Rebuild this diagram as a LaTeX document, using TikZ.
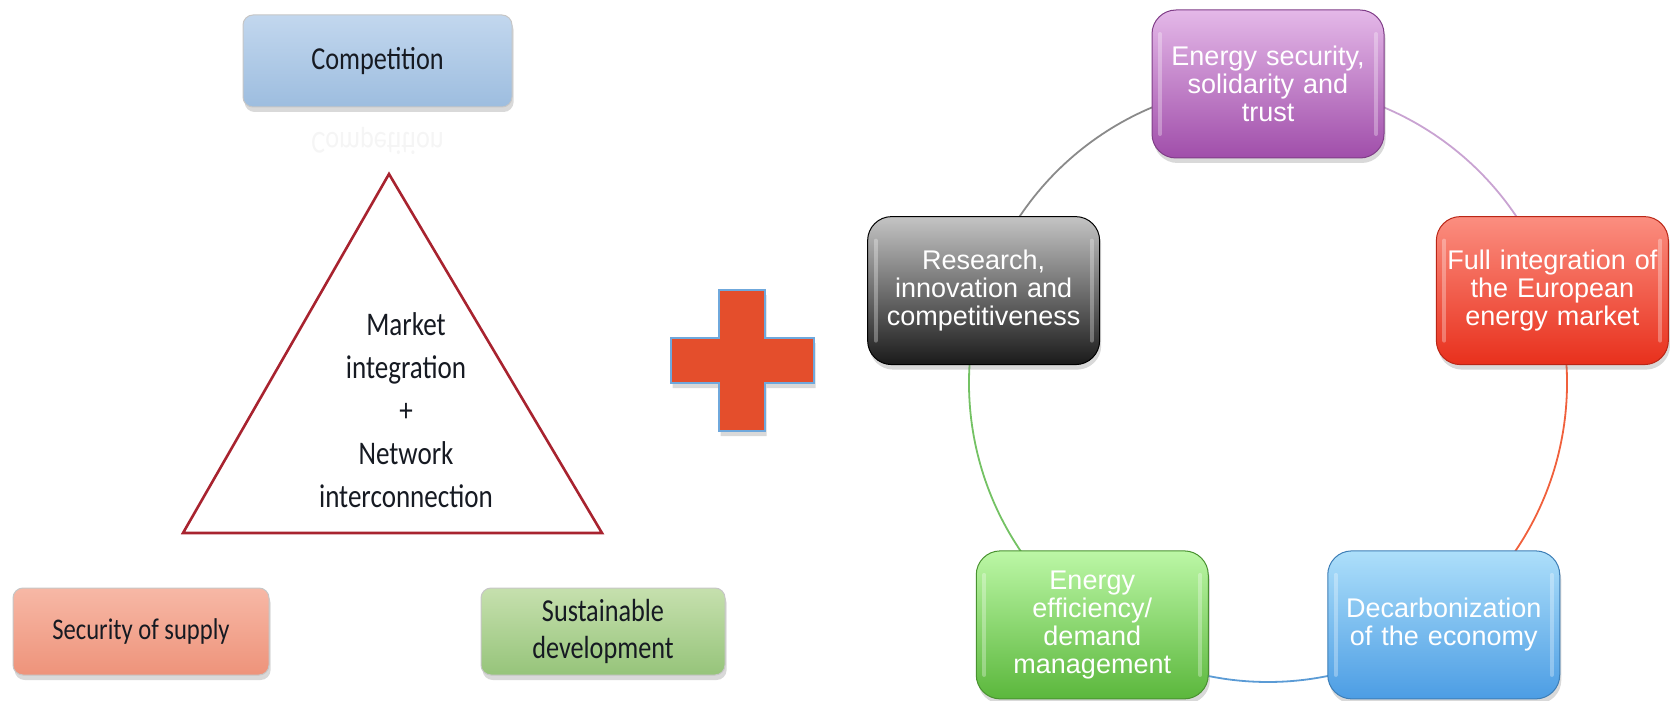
\documentclass[tikz,border=0pt]{standalone}
\usepackage{fontspec}
\usepackage{graphicx}
\setmainfont{Carlito}
\newfontfamily\lfont[FakeStretch=0.82]{Carlito}
\newfontfamily\rfont{Liberation Sans}
\usetikzlibrary{shadows,backgrounds,calc}
\definecolor{compTop}{HTML}{C2D7EE}
\definecolor{compBot}{HTML}{9DBDDF}
\definecolor{secTop}{HTML}{F7B8A6}
\definecolor{secBot}{HTML}{EE937A}
\definecolor{susTop}{HTML}{C6E0AE}
\definecolor{susBot}{HTML}{96C47A}
\definecolor{lefttext}{HTML}{161A22}
\definecolor{esTop}{HTML}{E4B8E8}
\definecolor{esBot}{HTML}{A04EAA}
\definecolor{reTop}{HTML}{C4C4C4}
\definecolor{reBot}{HTML}{1A1A1A}
\definecolor{fiTop}{HTML}{FB8E80}
\definecolor{fiBot}{HTML}{E8301C}
\definecolor{eeTop}{HTML}{BCF7A6}
\definecolor{eeBot}{HTML}{5BB73C}
\definecolor{dcTop}{HTML}{ADDFFA}
\definecolor{dcBot}{HTML}{4C9DE4}
\definecolor{triRed}{HTML}{A8232F}
\definecolor{plusFill}{HTML}{E44E2C}
\definecolor{plusEdge}{HTML}{6FA8DC}
\definecolor{arcGray}{HTML}{8A8A8A}
\definecolor{arcPurple}{HTML}{C9A3D2}
\definecolor{arcRed}{HTML}{F0603C}
\definecolor{arcBlue}{HTML}{5B9BD5}
\definecolor{arcGreen}{HTML}{74C264}
\begin{document}
\begin{tikzpicture}[x=0.5pt,y=-0.5pt,
  shad/.style={drop shadow={opacity=0.3,shadow xshift=0.8pt,shadow yshift=-2.5pt}},
  gloss/.style={path picture={
    \draw[white, opacity=0.3, line width=2pt, line cap=round]
      ([xshift=4pt,yshift=-12pt]path picture bounding box.north west) --
      ([xshift=4pt,yshift=12pt]path picture bounding box.south west);
    \draw[white, opacity=0.3, line width=2pt, line cap=round]
      ([xshift=-4pt,yshift=-12pt]path picture bounding box.north east) --
      ([xshift=-4pt,yshift=12pt]path picture bounding box.south east);}},
  lboxbase/.style={rounded corners=5pt, align=center, text=lefttext,
    font=\lfont\fontsize{16}{18.5}\selectfont, draw=gray!45, line width=0.5pt, shad},
  compbox/.style={lboxbase, top color=compTop, bottom color=compBot, minimum width=134.5pt, minimum height=46pt},
  secbox/.style={lboxbase, top color=secTop, bottom color=secBot, minimum width=128pt, minimum height=43.5pt, font=\lfont\fontsize{15}{18.5}\selectfont},
  susbox/.style={lboxbase, top color=susTop, bottom color=susBot, minimum width=122pt, minimum height=43.5pt},
  rbox/.style={rounded corners=12pt, align=center, text=white, text width=112pt, inner xsep=2pt,
    font=\rfont\fontsize{13.5}{14}\selectfont, minimum width=116pt, minimum height=74pt,
    line width=0.5pt, shad, gloss},
  esbox/.style={rbox, top color=esTop, bottom color=esBot, draw=esBot!80!black},
  rebox/.style={rbox, top color=reTop, bottom color=reBot, draw=black},
  fibox/.style={rbox, top color=fiTop, bottom color=fiBot, draw=fiBot!80!black},
  eebox/.style={rbox, top color=eeTop, bottom color=eeBot, draw=eeBot!80!black},
  dcbox/.style={rbox, top color=dcTop, bottom color=dcBot, draw=dcBot!80!black},
  arcline/.style={line width=0.9pt},
]
\useasboundingbox (0,0) rectangle (1672,701);

% left part
\node[compbox] (comp) at (377.5,61) {Competition};
\node[text=black!4, font=\lfont\fontsize{16}{18.5}\selectfont] (refl) at (377.5,141) {\scalebox{1}[-1]{Competition}};
\node[secbox] (sec) at (141,631.5) {Security of supply};
\node[susbox] (sus) at (603,631.5) {Sustainable\\development};

\draw[triRed, line width=1.3pt, fill=white, line join=miter] (389,174) -- (602,533) -- (183,533) -- cycle;
\node[align=center, text=lefttext, font=\lfont\fontsize{16.5}{21.5}\selectfont] (tri) at (406,410)
  {Market\\integration\\+\\Network\\interconnection};

% plus sign
\draw[fill=plusFill, draw=plusEdge, line width=0.8pt, shad]
  (719,290) -- (765,290) -- (765,338) -- (814,338) -- (814,383) -- (765,383) -- (765,431)
  -- (719,431) -- (719,383) -- (671,383) -- (671,338) -- (719,338) -- cycle;

% right cycle
\coordinate (c) at (1268,383);
\node[esbox] (es) at ($(c)+(270:299)$) {Energy security,\\solidarity and\\trust};
\node[fibox] (fi) at ($(c)+(342:299)$) {Full integration of\\the European\\energy market};
\node[dcbox] (dc) at ($(c)+(54:299)$) {Decarbonization\\of the economy};
\node[eebox] (ee) at ($(c)+(126:299)$) {Energy\\efficiency/\\demand\\management};
\node[rebox] (re) at ($(c)+(198:299)$) {Research,\\innovation and\\competitiveness};

\begin{scope}[on background layer]
\draw[arcline, arcGray] (re.center) arc[start angle=198, end angle=270, radius=299];
\draw[arcline, arcPurple] (es.center) arc[start angle=270, end angle=342, radius=299];
\draw[arcline, arcRed] (fi.center) arc[start angle=-18, end angle=54, radius=299];
\draw[arcline, arcBlue] (dc.center) arc[start angle=54, end angle=126, radius=299];
\draw[arcline, arcGreen] (ee.center) arc[start angle=126, end angle=198, radius=299];
\end{scope}
\end{tikzpicture}
\end{document}
